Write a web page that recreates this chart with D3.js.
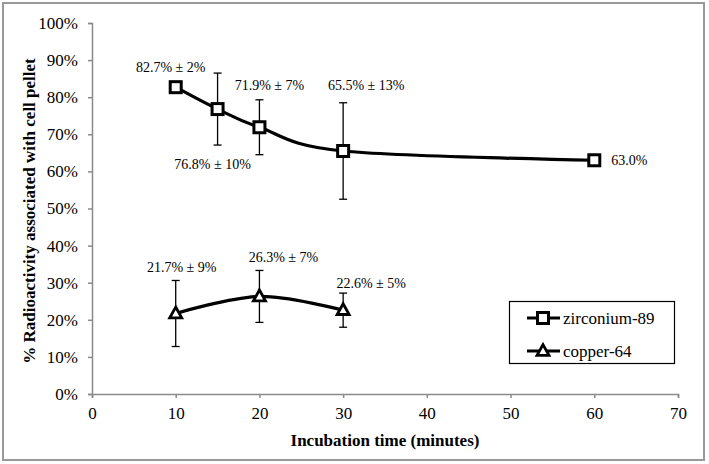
<!DOCTYPE html>
<html><head><meta charset="utf-8">
<script src="https://cdn.jsdelivr.net/npm/d3@7"></script>
<style>body{margin:0;background:#fff;} svg{display:block;}</style>
</head><body><svg id="c" width="709" height="464" font-family="Liberation Serif"></svg>
<script>
// ---- data ----
const zrTimes = [10, 15, 20, 30, 60];
const zrValues = [82.7, 76.8, 71.9, 65.5, 63.0];
const zrErrors = [1.5, 9.7, 7.4, 13, 0];
const zrLabels = ["82.7% ± 2%", "76.8% ± 10%", "71.9% ± 7%", "65.5% ± 13%", "63.0%"];
const cuTimes = [10, 20, 30];
const cuValues = [21.7, 26.3, 22.6];
const cuErrors = [8.9, 7, 4.6];
const cuLabels = ["21.7% ± 9%", "26.3% ± 7%", "22.6% ± 5%"];
const xTicks = [0, 10, 20, 30, 40, 50, 60, 70];
const yTicks = [0, 10, 20, 30, 40, 50, 60, 70, 80, 90, 100];
const seriesNames = ["zirconium-89", "copper-64"];
const xTitle = "Incubation time (minutes)";
const yTitle = "% Radioactivity associated with cell pellet";

// ---- layout ----
const FONT = "Liberation Serif";
const zrLabelPos = [[-5,-20,"middle"],[-5,55,"middle"],[10,-42,"middle"],[23,-66,"middle"],[17,0,"start"]];
const cuLabelPos = [[6,-46,"middle"],[24,-39,"middle"],[28,-27,"middle"]];

const svg = d3.select("#c");
svg.append("rect").attr("x",3).attr("y",3).attr("width",701).attr("height",457)
  .attr("fill","#fff").attr("stroke","#999").attr("stroke-width",2);

const x = d3.scaleLinear().domain([0,70]).range([92,678]);
const y = d3.scaleLinear().domain([0,100]).range([394,23]);

const axisColor = "#8a8a8a";
const gx = svg.append("g").attr("transform","translate(0,394)")
  .call(d3.axisBottom(x).tickValues(xTicks).tickSize(4).tickPadding(9));
const gy = svg.append("g").attr("transform","translate(92,0)")
  .call(d3.axisLeft(y).tickValues(yTicks).tickSize(4).tickPadding(10).tickFormat(d=>d+"%"));
[gx,gy].forEach(g=>{
  g.attr("font-family",FONT).attr("font-size",17);
  g.select(".domain").attr("stroke",axisColor).attr("stroke-width",1.5);
  g.selectAll(".tick line").attr("stroke",axisColor).attr("stroke-width",1.5);
  g.selectAll(".tick text").attr("fill","#000").attr("font-family",FONT).attr("font-size",17);
});

svg.append("text").attr("x",385).attr("y",446).attr("text-anchor","middle")
  .attr("font-family",FONT).attr("font-size",17).attr("font-weight","bold").text(xTitle);
svg.append("text").attr("transform","translate(35,211) rotate(-90)").attr("text-anchor","middle")
  .attr("font-family",FONT).attr("font-size",17).attr("font-weight","bold").text(yTitle);

const line = d3.line().x(d=>x(d[0])).y(d=>y(d[1])).curve(d3.curveCardinal.tension(0));

function drawSeries(times, vals, errs, labels, lpos, marker){
  const pts = times.map((t,i)=>[t, vals[i], errs[i]]);
  const g = svg.append("g");
  pts.filter(p=>p[2]>0).forEach(p=>{
    const cx = x(p[0]), y1 = y(p[1]+p[2]), y2 = y(p[1]-p[2]);
    g.append("line").attr("x1",cx).attr("x2",cx).attr("y1",y1).attr("y2",y2).attr("stroke","#000").attr("stroke-width",1.3);
    [y1,y2].forEach(yy=>g.append("line").attr("x1",cx-4).attr("x2",cx+4).attr("y1",yy).attr("y2",yy).attr("stroke","#000").attr("stroke-width",1.3));
  });
  g.append("path").datum(pts).attr("d",line).attr("fill","none").attr("stroke","#000").attr("stroke-width",3.2);
  pts.forEach(p=>marker(g, x(p[0]), y(p[1])));
  pts.forEach((p,i)=>{
    g.append("text").attr("x",x(p[0])+lpos[i][0]).attr("y",y(p[1])+lpos[i][1]+5)
      .attr("text-anchor",lpos[i][2]).attr("font-family",FONT).attr("font-size",14).text(labels[i]);
  });
}
function square(g,cx,cy){
  g.append("rect").attr("x",cx-5.5).attr("y",cy-5.5).attr("width",11).attr("height",11)
    .attr("fill","#fff").attr("stroke","#000").attr("stroke-width",3);
}
function triangle(g,cx,cy){
  const s=12, h=s*0.866;
  g.append("path").attr("d",`M${cx},${cy-h*0.62}L${cx+s/2},${cy+h*0.42}L${cx-s/2},${cy+h*0.42}Z`)
    .attr("fill","#fff").attr("stroke","#000").attr("stroke-width",2.8).attr("stroke-linejoin","miter");
}
drawSeries(zrTimes, zrValues, zrErrors, zrLabels, zrLabelPos, square);
drawSeries(cuTimes, cuValues, cuErrors, cuLabels, cuLabelPos, triangle);

// legend
const lg = svg.append("g");
lg.append("rect").attr("x",509.5).attr("y",301.5).attr("width",165).attr("height",62)
  .attr("fill","#fff").attr("stroke","#000").attr("stroke-width",1.2);
[[seriesNames[0],318,square],[seriesNames[1],351,triangle]].forEach(([name,yy,mk])=>{
  lg.append("line").attr("x1",527).attr("x2",560).attr("y1",yy).attr("y2",yy).attr("stroke","#000").attr("stroke-width",3.2);
  mk(lg,543,yy);
  lg.append("text").attr("x",563).attr("y",yy+6).attr("font-family",FONT).attr("font-size",17).text(name);
});
</script></body></html>
